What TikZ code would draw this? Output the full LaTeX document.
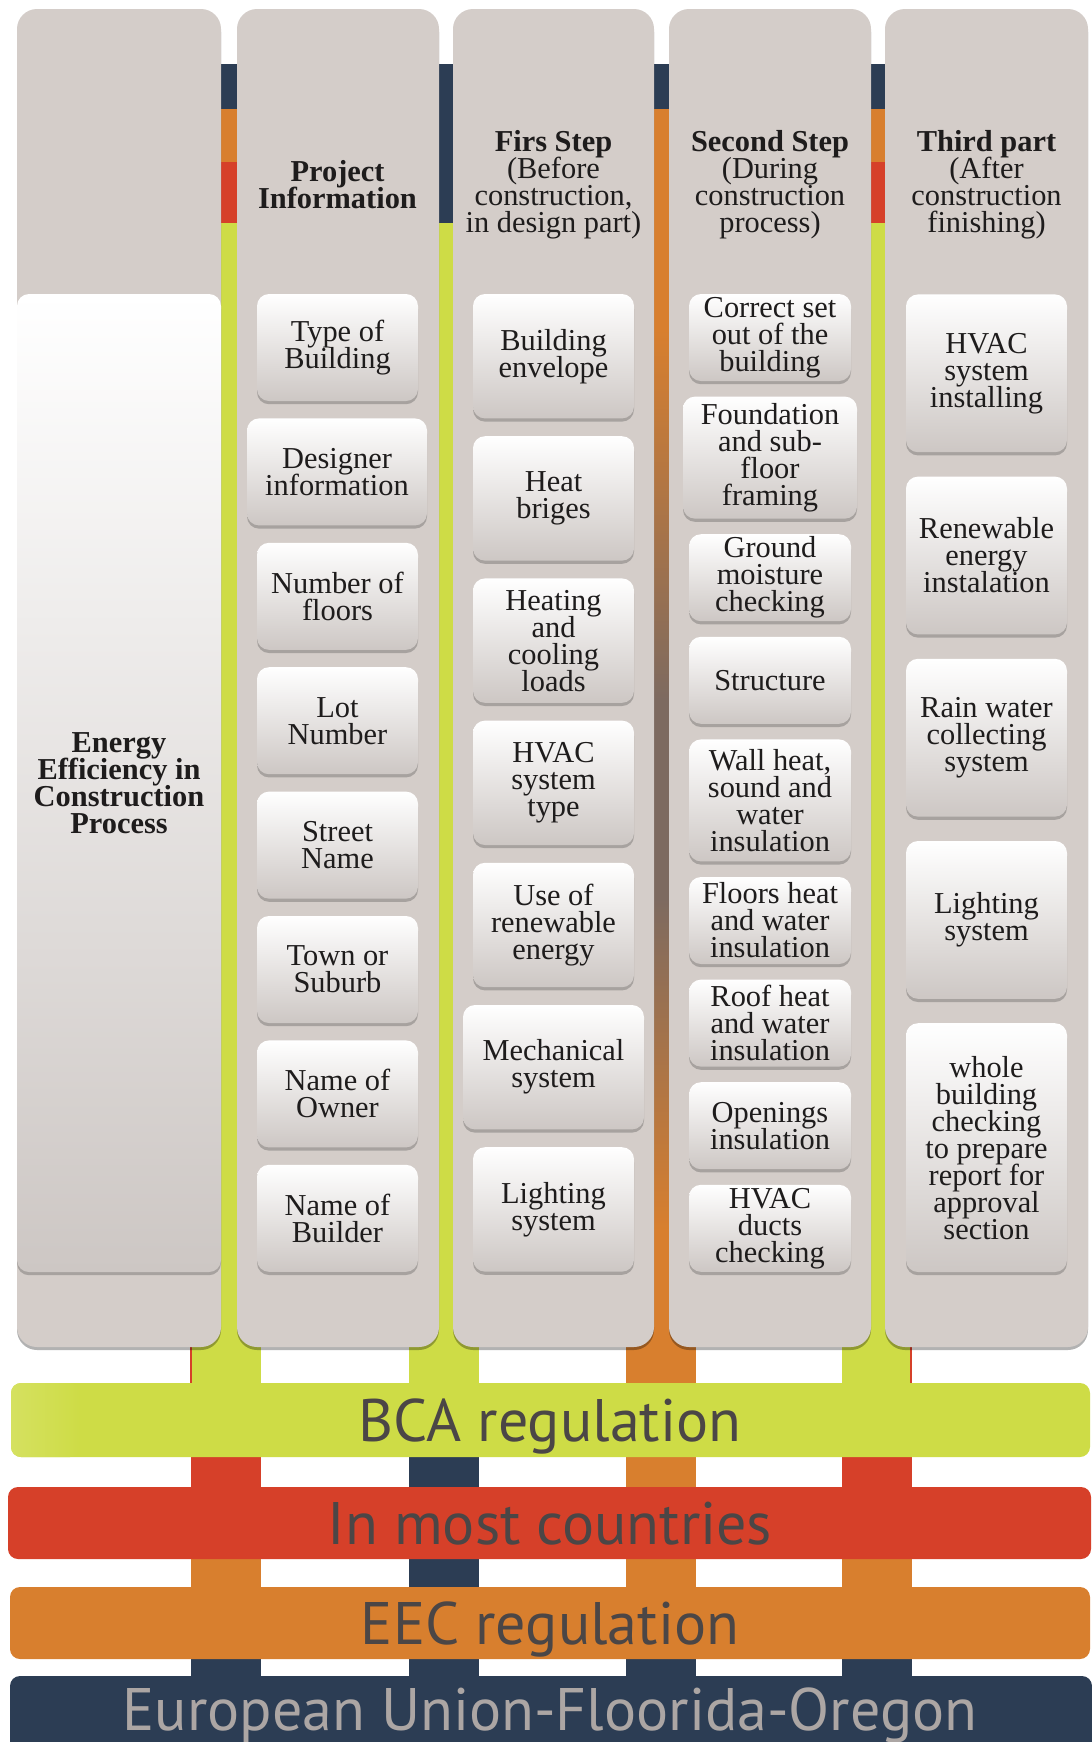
\documentclass[tikz,border=0pt]{standalone}
\usepackage{fontspec}
\setmainfont{Liberation Serif}
\newfontfamily\bandfont{PT Sans}
\usetikzlibrary{shadows}

\definecolor{colbg}{RGB}{212,205,201}
\definecolor{navy}{RGB}{44,61,84}
\definecolor{orng}{RGB}{216,127,46}
\definecolor{rred}{RGB}{214,64,41}
\definecolor{ygreen}{RGB}{206,220,70}
\definecolor{brwn}{RGB}{125,106,96}
\definecolor{boxbot}{RGB}{205,199,196}
\definecolor{itemtxt}{RGB}{30,28,28}
\definecolor{bandtxt}{RGB}{75,70,70}
\definecolor{bandtxtl}{RGB}{172,166,164}

\newcommand\myitemfont{\fontsize{15.2}{13.5}\selectfont\lineskiplimit=-30pt\relax\lineskip=0pt\relax}

\begin{document}
\begin{tikzpicture}[x=0.5pt,y=-0.5pt,
  colshape/.style={fill=colbg, rounded corners=10pt,
    drop shadow={shadow xshift=0pt, shadow yshift=-1.5pt, opacity=0.3, fill=black}},
  itembox/.style={rectangle, rounded corners=6pt, top color=white, bottom color=boxbot,
    drop shadow={shadow xshift=0pt, shadow yshift=-1.6pt, opacity=0.3, fill=black!75},
    align=center, text=itemtxt, inner sep=0pt, font=\myitemfont},
  headtext/.style={align=center, text=itemtxt, inner sep=0pt, font=\myitemfont},
  bandtext/.style={anchor=base, inner sep=0pt, font=\bandfont\fontsize{30}{36}\selectfont},
  bandshape/.style={rounded corners=5pt}
]
\useasboundingbox (0,0) rectangle (1092,1742);
\fill[white] (0,0) rectangle (1092,1742);

% ---------- vertical connector bars ----------
% bar 1 (x 191-261)
\fill[navy]   (191,64)  rectangle (261,109);
\fill[orng]   (191,109) rectangle (261,162);
\fill[rred]   (191,162) rectangle (261,223);
\fill[ygreen] (191,223) rectangle (261,1400);
\fill[rred]   (191,1440) rectangle (261,1500);
\fill[orng]   (191,1540) rectangle (261,1600);
\fill[navy]   (191,1640) rectangle (261,1690);
\fill[rred]   (190,1300) rectangle (192,1385);
% bar 2 (x 409-479)
\fill[navy]   (409,64)  rectangle (479,223);
\fill[ygreen] (409,223) rectangle (479,1400);
\fill[navy]   (409,1440) rectangle (479,1690);
% bar 3 (x 626-696)
\fill[navy]   (626,64)  rectangle (696,109);
\fill[orng]   (626,109) rectangle (696,330);
\shade[top color=orng, bottom color=brwn] (626,329) rectangle (696,700);
\fill[brwn]   (626,699) rectangle (696,900);
\shade[top color=brwn, bottom color=orng] (626,899) rectangle (696,1230);
\fill[orng]   (626,1229) rectangle (696,1600);
\fill[navy]   (626,1640) rectangle (696,1690);
% bar 4 (x 842-912)
\fill[navy]   (842,64)  rectangle (912,109);
\fill[orng]   (842,109) rectangle (912,162);
\fill[rred]   (842,162) rectangle (912,223);
\fill[ygreen] (842,223) rectangle (912,1400);
\fill[rred]   (842,1440) rectangle (912,1500);
\fill[orng]   (842,1540) rectangle (912,1600);
\fill[navy]   (842,1640) rectangle (912,1690);
\fill[rred]   (910,1300) rectangle (912,1385);

% ---------- columns ----------
\fill[colshape] (17,9)  rectangle (221,1347);
\fill[colshape] (237,9) rectangle (439,1347);
\fill[colshape] (453,9) rectangle (654,1347);
\fill[colshape] (669,9) rectangle (871,1347);
\fill[colshape] (885,9) rectangle (1088,1347);

% ---------- bands ----------
\fill[ygreen, bandshape] (11,1383) rectangle (1090,1457);
\shade[bandshape, left color=ygreen!86!white, right color=ygreen] (11,1383) rectangle (80,1457);
\fill[rred, bandshape]   (8,1487)  rectangle (1091,1559);
\fill[orng, bandshape]   (10,1587) rectangle (1090,1659);
\fill[navy, bandshape]   (10,1676) rectangle (1092,1770);

\node[bandtext, text=bandtxt]  (bca) at (550,1441) {BCA regulation};
\node[bandtext, text=bandtxt]  (most) at (550,1544) {In most countries};
\node[bandtext, text=bandtxt]  (eec) at (550,1644) {EEC regulation};
\node[bandtext, text=bandtxtl] (eu) at (550,1730) {European Union-Floorida-Oregon};

% ---------- headers ----------
\node[headtext] (h2) at (337.5,185) {\bfseries Project\\\bfseries Information};
\node[headtext] (h3) at (553.5,185) {\textbf{Firs Step}\\(Before\\construction,\\in design part)};
\node[headtext] (h4) at (770,185) {\textbf{Second Step}\\(During\\construction\\process)};
\node[headtext] (h5) at (986.5,185) {\textbf{Third part}\\(After\\construction\\finishing)};

% ---------- column 1 ----------
\node[itembox, minimum width=102pt, minimum height=489pt] (c1) at (119,783)
  {\bfseries Energy\\\bfseries Efficiency in\\\bfseries Construction\\\bfseries Process};

% ---------- column 2 ----------
\node[itembox, minimum width=80.5pt, minimum height=53.5pt] (c2a) at (337.5,347.5) {Type of\\Building};
\node[itembox, minimum width=90pt,   minimum height=53.5pt] (c2b) at (337,471.9) {Designer\\information};
\node[itembox, minimum width=80.5pt, minimum height=53.5pt] (c2c) at (337.5,596.3) {Number of\\floors};
\node[itembox, minimum width=80.5pt, minimum height=53.5pt] (c2d) at (337.5,720.7) {Lot\\Number};
\node[itembox, minimum width=80.5pt, minimum height=53.5pt] (c2e) at (337.5,845.1) {Street\\Name};
\node[itembox, minimum width=80.5pt, minimum height=53.5pt] (c2f) at (337.5,969.5) {Town or\\Suburb};
\node[itembox, minimum width=80.5pt, minimum height=53.5pt] (c2g) at (337.5,1093.9) {Name of\\Owner};
\node[itembox, minimum width=80.5pt, minimum height=53.5pt] (c2h) at (337.5,1218.3) {Name of\\Builder};

% ---------- column 3 ----------
\node[itembox, minimum width=80.5pt, minimum height=62.2pt] (c3a) at (553.5,356.2) {Building\\envelope};
\node[itembox, minimum width=80.5pt, minimum height=62.2pt] (c3b) at (553.5,498.4) {Heat\\briges};
\node[itembox, minimum width=80.5pt, minimum height=62.2pt] (c3c) at (553.5,640.6) {Heating\\and\\cooling\\loads};
\node[itembox, minimum width=80.5pt, minimum height=62.2pt] (c3d) at (553.5,782.8) {HVAC\\system\\type};
\node[itembox, minimum width=80.5pt, minimum height=62.2pt] (c3e) at (553.5,925) {Use of\\renewable\\energy};
\node[itembox, minimum width=90.5pt, minimum height=62.2pt] (c3f) at (553.5,1067.2) {Mechanical\\system};
\node[itembox, minimum width=80.5pt, minimum height=62.2pt] (c3g) at (553.5,1209.4) {Lighting\\system};

% ---------- column 4 ----------
\node[itembox, minimum width=81pt, minimum height=43.5pt] (c4a) at (770,337.5) {Correct set\\out of the\\building};
\node[itembox, minimum width=87pt, minimum height=61pt]   (c4b) at (770,457.6) {Foundation\\and sub-\\floor\\framing};
\node[itembox, minimum width=81pt, minimum height=43.5pt] (c4c) at (770,577.7) {Ground\\moisture\\checking};
\node[itembox, minimum width=81pt, minimum height=43.5pt] (c4d) at (770,680.3) {Structure};
\node[itembox, minimum width=81pt, minimum height=61pt]   (c4e) at (770,800.4) {Wall heat,\\sound and\\water\\insulation};
\node[itembox, minimum width=81pt, minimum height=43.5pt] (c4f) at (770,920.5) {Floors heat\\and water\\insulation};
\node[itembox, minimum width=81pt, minimum height=43.5pt] (c4g) at (770,1023.1) {Roof heat\\and water\\insulation};
\node[itembox, minimum width=81pt, minimum height=43.5pt] (c4h) at (770,1125.7) {Openings\\insulation};
\node[itembox, minimum width=81pt, minimum height=43.5pt] (c4i) at (770,1228.3) {HVAC\\ducts\\checking};

% ---------- column 5 ----------
\node[itembox, minimum width=80.5pt, minimum height=78.9pt] (c5a) at (986.5,373.3) {HVAC\\system\\installing};
\node[itembox, minimum width=80.5pt, minimum height=78.9pt] (c5b) at (986.5,555.5) {Renewable\\energy\\instalation};
\node[itembox, minimum width=80.5pt, minimum height=78.9pt] (c5c) at (986.5,737.7) {Rain water\\collecting\\system};
\node[itembox, minimum width=80.5pt, minimum height=78.9pt] (c5d) at (986.5,919.9) {Lighting\\system};
\node[itembox, minimum width=80.5pt, minimum height=124.4pt] (c5e) at (986.5,1147.6) {whole\\building\\checking\\to prepare\\report for\\approval\\section};
\end{tikzpicture}
\end{document}
